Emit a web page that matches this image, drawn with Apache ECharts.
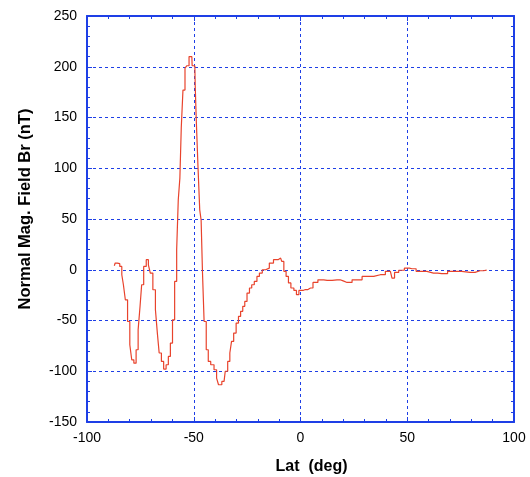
<!DOCTYPE html>
<html>
<head>
<meta charset="utf-8">
<script src="https://cdn.jsdelivr.net/npm/echarts@6/dist/echarts.min.js"></script>
<style>
html,body{margin:0;padding:0;background:#fff;}
#main{width:530px;height:477px;}
</style>
</head>
<body>
<div id="main"></div>
<script>
// latitude (deg) and normal field Br (nT)
var lat = [-87.2,-86.4,-85.2,-84.1,-83.3,-82.6,-81.5,-80.5,-79.4,-78.7,-77.4,-76.6,-75.5,-74.8,-74.0,-72.9,-71.6,-70.9,-69.8,-68.5,-67.4,-66.7,-65.7,-64.6,-63.6,-62.3,-61.5,-60.4,-59.5,-58.4,-57.6,-56.9,-56.1,-55.6,-54.5,-53.7,-52.7,-51.7,-50.9,-50.6,-49.5,-49.1,-48.6,-47.5,-46.9,-46.2,-45.6,-44.7,-43.6,-42.8,-41.3,-39.7,-38.9,-37.9,-35.8,-34.7,-33.5,-32.7,-31.9,-30.7,-29.6,-28.5,-27.6,-26.5,-25.7,-24.4,-23.4,-22.3,-21.0,-19.8,-18.7,-17.1,-15.6,-13.6,-11.7,-9.3,-8.3,-7.3,-6.2,-5.1,-3.9,-2.3,-1.5,0.0,2.3,4.7,7.0,9.3,12.5,17.1,20.0,21.8,26.5,31.2,37.4,42.1,43.6,44.5,47.5,49.8,52.2,56.1,62.3,66.2,71.6,79.4,84.1,87.2];
var br  = [3.9,6.6,6,3.3,-4.9,-14.8,-29.6,-51,-73.9,-88.7,-92,-78.8,-59,-36,-14.8,3.3,9.9,4.9,-3.3,-19.7,-39.4,-62.4,-82,-90.3,-97.9,-93.6,-85.4,-72.2,-49.3,-11.5,19.7,69,90.3,139.6,177,198.7,201,210,210,201,201,180.6,149.4,103.4,59,49,-3.3,-51,-78.8,-90.3,-93.6,-98.5,-106.7,-113.3,-110,-100,-90.3,-82,-70.6,-62.4,-52.5,-46,-41,-36,-31.2,-23,-18,-14.8,-11.5,-6.6,-3.3,0,1.6,6.6,9.9,11.5,8.2,-1.6,-6.6,-13,-18,-20.4,-24.6,-20.4,-19.5,-18,-12.5,-9.9,-10.5,-9.9,-11,-12.5,-9.9,-6.6,-4.9,-1.6,-8.2,-2.6,-0.5,1.6,1,-1.6,-3.3,-3.9,-1.6,-2.6,-1,-0.3];

var xTicks = {min: -100, max: 100, interval: 50};
var yTicks = {min: -150, max: 250, interval: 50};

var pts = lat.map(function (v, i) { return [v, br[i]]; });

var blue = '#1e3fe6';
var fontFam = '"Liberation Sans", Arial, sans-serif';
function axisBase(extra) {
	var a = {
		type: 'value',
		axisLine: {show: true, onZero: false, lineStyle: {color: blue, width: 2}},
		axisTick: {show: true, inside: true, length: 5, lineStyle: {color: blue, width: 1}},
		minorTick: {show: true, splitNumber: 5, length: 3, lineStyle: {color: blue}},
		splitLine: {show: false},
		axisLabel: {show: false}
	};
	for (var k in extra) a[k] = extra[k];
	return a;
}

var chart = echarts.init(document.getElementById('main'));
chart.setOption({
	animation: false,
	grid: {left: 87, right: 16, top: 16, bottom: 55, containLabel: false, outerBoundsMode: 'none'},
	xAxis: [
		axisBase({
			position: 'bottom', min: xTicks.min, max: xTicks.max, interval: xTicks.interval,
			name: 'Lat  (deg)', nameLocation: 'middle', nameGap: 37,
			nameTextStyle: {fontFamily: fontFam, fontSize: 16, fontWeight: 'bold', color: '#000', padding: [0, 0, 0, 22]},
			axisLabel: {show: true, margin: 9, color: '#000', fontFamily: fontFam, fontSize: 14},
			splitLine: {show: true, lineStyle: {color: blue, type: [3, 3], width: 1}}
		}),
		axisBase({position: 'top', min: xTicks.min, max: xTicks.max, interval: xTicks.interval})
	],
	yAxis: [
		axisBase({
			position: 'left', min: yTicks.min, max: yTicks.max, interval: yTicks.interval,
			name: 'Normal Mag. Field Br (nT)', nameLocation: 'middle', nameGap: 53,
			nameTextStyle: {fontFamily: fontFam, fontSize: 16.5, fontWeight: 'bold', color: '#000', padding: [0, 0, 0, 20]},
			axisLabel: {show: true, margin: 10, color: '#000', fontFamily: fontFam, fontSize: 14},
			splitLine: {show: true, lineStyle: {color: blue, type: [3, 3], width: 1}}
		}),
		axisBase({position: 'right', min: yTicks.min, max: yTicks.max, interval: yTicks.interval})
	],
	series: [{
		type: 'line',
		data: pts,
		step: 'middle',
		showSymbol: false,
		lineStyle: {color: '#e8432c', width: 1.2}
	}]
});
</script>
</body>
</html>
